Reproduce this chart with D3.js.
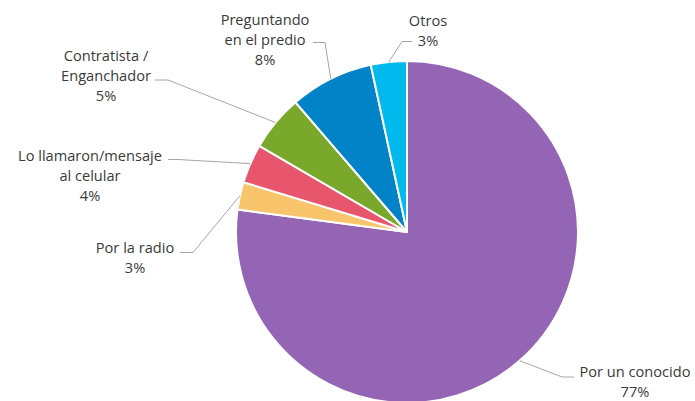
<!DOCTYPE html>
<html><head><meta charset="utf-8">
<script src="https://cdn.jsdelivr.net/npm/d3@7"></script>
<style>html,body{margin:0;padding:0;background:#fff;}svg{display:block;}</style>
</head><body>
<svg id="chart" width="695" height="401"></svg>
<script>
// Data
const categories = ["Por un conocido", "Por la radio", "Lo llamaron/mensaje al celular", "Contratista / Enganchador", "Preguntando en el predio", "Otros"];
const values = [77.1, 2.6, 3.7, 5.3, 7.9, 3.4];
const percentLabels = ["77%", "3%", "4%", "5%", "8%", "3%"];
const labelLines = [["Por un conocido"], ["Por la radio"], ["Lo llamaron/mensaje", "al celular"], ["Contratista /", "Enganchador"], ["Preguntando", "en el predio"], ["Otros"]];
const colors = ["#9565b5", "#f8c56c", "#e8566d", "#79a82a", "#0283c8", "#02b9ee"];

// Layout (label placement)
const cx = 407, cy = 232, R = 171;
const layout = [
  {tx: 635, ty: 376.5, lh: 20, elbow: [[562, 377], [574, 377]]},
  {tx: 135, ty: 253, lh: 20, elbow: [[193, 252.5], [180, 252.5]]},
  {tx: 90, ty: 160.5, lh: 20, elbow: [[178, 159.5], [168, 159.5]]},
  {tx: 106, ty: 61, lh: 20, elbow: [[168, 80], [155, 80]]},
  {tx: 265, ty: 25, lh: 20, elbow: [[325, 42.5], [313, 42.5]]},
  {tx: 428, ty: 26, lh: 20, elbow: [[402, 41.5], [412, 41.5]]}
];

const svg = d3.select("#chart");
const g = svg.append("g").attr("transform", `translate(${cx},${cy})`);
const pie = d3.pie().sort(null).value(d => d);
const arcs = pie(values);
const arc = d3.arc().innerRadius(0).outerRadius(R);

g.selectAll("path.slice").data(arcs).join("path")
  .attr("class", "slice")
  .attr("d", arc)
  .attr("fill", (d, i) => colors[i])
  .attr("stroke", "#fff")
  .attr("stroke-width", 2)
  .attr("stroke-linejoin", "round");

// leader lines
const leaders = svg.append("g");
arcs.forEach((a, i) => {
  const m = (a.startAngle + a.endAngle) / 2;
  const p0 = [cx + R * Math.sin(m), cy - R * Math.cos(m)];
  const pts = [p0, ...layout[i].elbow];
  leaders.append("path")
    .attr("d", d3.line()(pts))
    .attr("fill", "none")
    .attr("stroke", "#a6a6a6")
    .attr("stroke-width", 1);
});

// labels
const lg = svg.append("g")
  .attr("font-family", "'Open Sans', sans-serif")
  .attr("font-size", 14.6)
  .attr("fill", "#3a3a3a")
  .attr("text-anchor", "middle");
arcs.forEach((a, i) => {
  const L = layout[i];
  const lines = [...labelLines[i], percentLabels[i]];
  const t = lg.append("text").attr("x", L.tx).attr("y", L.ty);
  lines.forEach((s, k) => {
    t.append("tspan").attr("x", L.tx).attr("dy", k === 0 ? 0 : L.lh).text(s);
  });
});
</script>
</body></html>
